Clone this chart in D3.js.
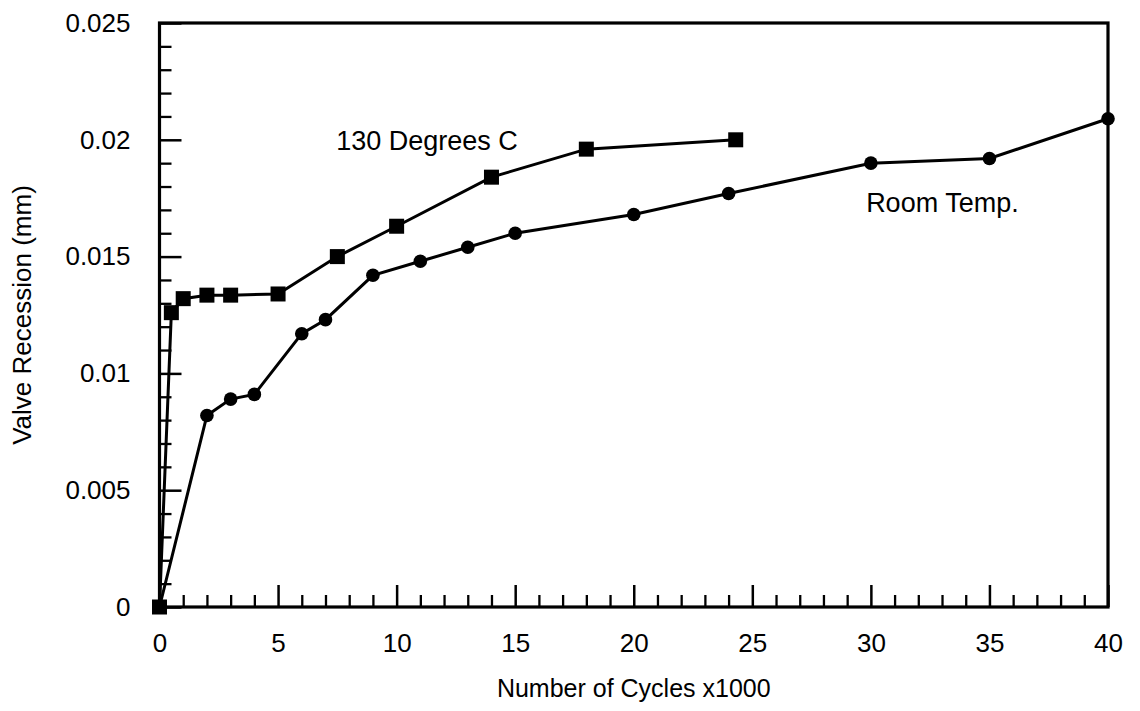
<!DOCTYPE html>
<html>
<head>
<meta charset="utf-8">
<script src="https://cdn.jsdelivr.net/npm/d3@7"></script>
<style>
  html, body { margin: 0; padding: 0; background: #fff; }
  svg { display: block; font-family: "Liberation Sans", Arial, Helvetica, sans-serif; }
</style>
</head>
<body>
<div id="chart"></div>
<script>
// room temperature series (circles)
const roomCycles = [0, 2, 3, 4, 6, 7, 9, 11, 13, 15, 20, 24, 30, 35, 40];
const roomRecession = [0, 0.0082, 0.0089, 0.0091, 0.0117, 0.0123, 0.0142, 0.0148, 0.0154, 0.0160, 0.0168, 0.0177, 0.0190, 0.0192, 0.0209];

// 130 degrees C series (squares)
const hotCycles = [0, 0.5, 1, 2, 3, 5, 7.5, 10, 14, 18, 24.3];
const hotRecession = [0, 0.0126, 0.0132, 0.01335, 0.01335, 0.0134, 0.0150, 0.0163, 0.0184, 0.0196, 0.0200];

const xMajorTicks = [0, 5, 10, 15, 20, 25, 30, 35, 40];
const xTickLabels = ["0", "5", "10", "15", "20", "25", "30", "35", "40"];
const yMajorTicks = [0, 0.005, 0.01, 0.015, 0.02, 0.025];
const yTickLabels = ["0", "0.005", "0.01", "0.015", "0.02", "0.025"];

const annotations = [
  { text: "130 Degrees C", x: 7.45, y: 0.01956 },
  { text: "Room Temp.", x: 29.8, y: 0.0169 }
];

const width = 1140, height = 711;
const margin = { top: 23, right: 32, bottom: 104, left: 159.5 };

const svg = d3.select("#chart").append("svg")
  .attr("width", width)
  .attr("height", height);

const x = d3.scaleLinear().domain([0, 40]).range([margin.left, width - margin.right]);
const y = d3.scaleLinear().domain([0, 0.025]).range([height - margin.bottom, margin.top]);

const fontSize = 26;

// minor ticks
const xMinor = d3.range(0, 41, 1).filter(d => d % 5 !== 0);
const yMinor = d3.range(0, 26, 1).filter(d => d % 5 !== 0).map(d => d / 1000);

svg.append("g")
  .attr("transform", `translate(0,${y(0)})`)
  .call(d3.axisBottom(x).tickValues(xMinor).tickSize(-12).tickFormat(""))
  .call(g => g.select(".domain").remove())
  .call(g => g.selectAll("line").attr("stroke", "#000").attr("stroke-width", 2.3));

svg.append("g")
  .attr("transform", `translate(${x(0)},0)`)
  .call(d3.axisLeft(y).tickValues(yMinor).tickSize(-12).tickFormat(""))
  .call(g => g.select(".domain").remove())
  .call(g => g.selectAll("line").attr("stroke", "#000").attr("stroke-width", 2.3));

// major ticks with labels
svg.append("g")
  .attr("transform", `translate(0,${y(0)})`)
  .call(d3.axisBottom(x).tickValues(xMajorTicks).tickSize(-22).tickPadding(27)
    .tickFormat((d, i) => xTickLabels[i]))
  .call(g => g.select(".domain").remove())
  .call(g => g.selectAll("line").attr("stroke", "#000").attr("stroke-width", 2.5))
  .call(g => g.selectAll("text").attr("fill", "#000").style("font-size", fontSize + "px"));

svg.append("g")
  .attr("transform", `translate(${x(0)},0)`)
  .call(d3.axisLeft(y).tickValues(yMajorTicks).tickSize(-22).tickPadding(29)
    .tickFormat((d, i) => yTickLabels[i]))
  .call(g => g.select(".domain").remove())
  .call(g => g.selectAll("line").attr("stroke", "#000").attr("stroke-width", 2.5))
  .call(g => g.selectAll("text").attr("fill", "#000").style("font-size", fontSize + "px"));

// frame
svg.append("rect")
  .attr("x", x(0))
  .attr("y", y(0.025))
  .attr("width", x(40) - x(0))
  .attr("height", y(0) - y(0.025))
  .attr("fill", "none")
  .attr("stroke", "#000")
  .attr("stroke-width", 3.2);

const line = d3.line().x(d => x(d[0])).y(d => y(d[1]));

const room = roomCycles.map((c, i) => [c, roomRecession[i]]);
const hot = hotCycles.map((c, i) => [c, hotRecession[i]]);

svg.append("path")
  .datum(room)
  .attr("d", line)
  .attr("fill", "none")
  .attr("stroke", "#000")
  .attr("stroke-width", 3);

svg.append("path")
  .datum(hot)
  .attr("d", line)
  .attr("fill", "none")
  .attr("stroke", "#000")
  .attr("stroke-width", 3);

svg.append("g")
  .selectAll("circle")
  .data(room)
  .join("circle")
  .attr("cx", d => x(d[0]))
  .attr("cy", d => y(d[1]))
  .attr("r", 6.8)
  .attr("fill", "#000");

const sq = 15;
svg.append("g")
  .selectAll("rect")
  .data(hot)
  .join("rect")
  .attr("x", d => x(d[0]) - sq / 2)
  .attr("y", d => y(d[1]) - sq / 2)
  .attr("width", sq)
  .attr("height", sq)
  .attr("fill", "#000");

// series labels
svg.append("g")
  .selectAll("text")
  .data(annotations)
  .join("text")
  .attr("x", d => x(d.x))
  .attr("y", d => y(d.y))
  .style("font-size", "27px")
  .attr("fill", "#000")
  .text(d => d.text);

// axis titles
svg.append("text")
  .attr("x", (x(0) + x(40)) / 2)
  .attr("y", 697)
  .attr("text-anchor", "middle")
  .style("font-size", "25px")
  .attr("fill", "#000")
  .text("Number of Cycles x1000");

svg.append("text")
  .attr("transform", `translate(31,${(y(0) + y(0.025)) / 2}) rotate(-90)`)
  .attr("text-anchor", "middle")
  .style("font-size", "26px")
  .attr("fill", "#000")
  .text("Valve Recession (mm)");
</script>
</body>
</html>
